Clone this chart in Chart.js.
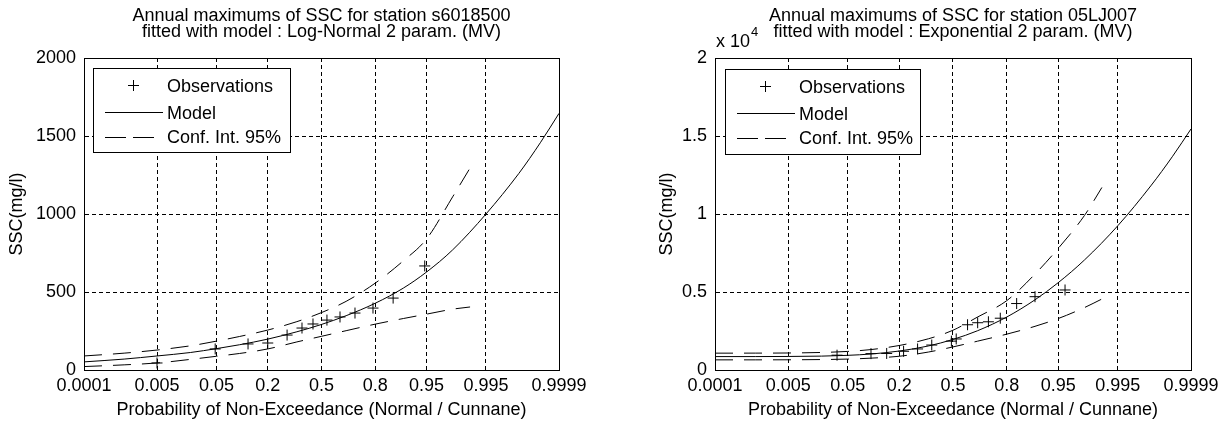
<!DOCTYPE html>
<html>
<head>
<meta charset="utf-8">
<script src="https://cdn.jsdelivr.net/npm/chart.js@4.4.1/dist/chart.umd.min.js"></script>
<style>
  body { margin: 0; background: #fff; width: 1228px; height: 427px; overflow: hidden; }
  .plot { position: absolute; top: 0; width: 614px; height: 427px; }
</style>
</head>
<body>
<div class="plot" style="left:0"><canvas id="left"></canvas></div>
<div class="plot" style="left:614px"><canvas id="right"></canvas></div>
<script>
// probability axis (normal / Cunnane)
const tickProbs = [0.0001, 0.005, 0.05, 0.2, 0.5, 0.8, 0.95, 0.995, 0.9999];
const tickLabels = ['0.0001', '0.005', '0.05', '0.2', '0.5', '0.8', '0.95', '0.995', '0.9999'];

// probabilities where the curves were read
const modelP = [0.0001, 0.001, 0.005, 0.02, 0.05, 0.1, 0.2, 0.35, 0.5, 0.65, 0.8, 0.9, 0.95, 0.98, 0.995, 0.999, 0.9997, 0.9999];
const ciP = [0.0001, 0.001, 0.005, 0.02, 0.05, 0.1, 0.2, 0.35, 0.5, 0.65, 0.8, 0.9, 0.95, 0.98, 0.99];

// station s6018500, Log-Normal 2 param.
const leftObsP = [0.005, 0.048, 0.125, 0.2, 0.295, 0.38, 0.447, 0.534, 0.614, 0.70, 0.79, 0.869, 0.947];
const leftObsV = [45, 135, 167, 173, 224, 269, 295, 320, 340, 365, 397, 461, 667];
const leftModel = [52, 70, 90, 112, 137, 162, 198, 245, 292, 348, 428, 525, 628, 770, 1000, 1260, 1460, 1645];
const leftUpper = [90, 108, 128, 155, 185, 215, 256, 310, 368, 440, 557, 700, 840, 1110, 1295];
const leftLower = [22, 33, 45, 68, 88, 106, 135, 180, 216, 252, 294, 330, 358, 390, 404];
const leftYTicks = [0, 500, 1000, 1500, 2000];

// station 05LJ007, Exponential 2 param.
const rightObsP = [0.035, 0.10, 0.15, 0.22, 0.29, 0.37, 0.49, 0.52, 0.59, 0.65, 0.71, 0.77, 0.84, 0.90, 0.96];
const rightObsV = [950, 1050, 1060, 1200, 1350, 1600, 1850, 1990, 2900, 3030, 3090, 3320, 4260, 4700, 5130];
const rightModel = [860, 861, 868, 890, 940, 1025, 1215, 1540, 1960, 2520, 3400, 4500, 5600, 7050, 9250, 11800, 13700, 15450];
const rightUpper = [1080, 1082, 1090, 1125, 1190, 1310, 1570, 2000, 2550, 3400, 4450, 6150, 7800, 9900, 11700];
const rightLower = [650, 651, 655, 670, 700, 760, 880, 1150, 1480, 1850, 2300, 2800, 3300, 4000, 4550];
const rightYTicks = [0, 5000, 10000, 15000, 20000];

const FONT = '18px "Liberation Sans", Arial, sans-serif';

// inverse normal cdf (Acklam)
function probit(p) {
    const a = [-3.969683028665376e+01, 2.209460984245205e+02, -2.759285104469687e+02, 1.383577518672690e+02, -3.066479806614716e+01, 2.506628277459239e+00];
    const b = [-5.447609879822406e+01, 1.615858368580409e+02, -1.556989798598866e+02, 6.680131188771972e+01, -1.328068155288572e+01];
    const c = [-7.784894002430293e-03, -3.223964580411365e-01, -2.400758277161838e+00, -2.549732539343734e+00, 4.374664141464968e+00, 2.938163982698783e+00];
    const d = [7.784695709041462e-03, 3.224671290700398e-01, 2.445134137142996e+00, 3.754408661907416e+00];
    const pl = 0.02425;
    let q, r;
    if (p < pl) {
        q = Math.sqrt(-2 * Math.log(p));
        return (((((c[0]*q+c[1])*q+c[2])*q+c[3])*q+c[4])*q+c[5]) / ((((d[0]*q+d[1])*q+d[2])*q+d[3])*q+1);
    }
    if (p > 1 - pl) {
        q = Math.sqrt(-2 * Math.log(1 - p));
        return -(((((c[0]*q+c[1])*q+c[2])*q+c[3])*q+c[4])*q+c[5]) / ((((d[0]*q+d[1])*q+d[2])*q+d[3])*q+1);
    }
    q = p - 0.5; r = q * q;
    return (((((a[0]*r+a[1])*r+a[2])*r+a[3])*r+a[4])*r+a[5])*q / (((((b[0]*r+b[1])*r+b[2])*r+b[3])*r+b[4])*r+1);
}

const pts = (ps, vs) => ps.map((p, i) => ({ x: probit(p), y: vs[i] }));

const deco = {
    id: 'deco',
    afterDraw(chart, args, o) {
        const { ctx, chartArea: a } = chart;
        const cx = (a.left + a.right) / 2;
        ctx.save();
        ctx.fillStyle = '#000';
        ctx.strokeStyle = '#000';
        ctx.lineWidth = 1;
        ctx.font = FONT;
        ctx.textAlign = 'center';
        ctx.textBaseline = 'alphabetic';
        ctx.fillText(o.title[0], cx, 21);
        ctx.fillText(o.title[1], cx, 37);
        ctx.fillText('Probability of Non-Exceedance (Normal / Cunnane)', cx, 415);

        ctx.save();
        ctx.translate(o.yTitleX, (a.top + a.bottom) / 2);
        ctx.rotate(-Math.PI / 2);
        ctx.textBaseline = 'middle';
        ctx.fillText('SSC(mg/l)', 0, 0);
        ctx.restore();

        if (o.exponent) {
            ctx.textAlign = 'left';
            ctx.fillText('x 10', a.left + 1, 47);
            ctx.font = '13px "Liberation Sans", Arial, sans-serif';
            ctx.fillText('4', a.left + 36, 36);
            ctx.font = FONT;
        }

        // axes box
        const L = Math.round(a.left) + 0.5, T = Math.round(a.top) + 0.5;
        ctx.strokeRect(L, T, Math.round(a.right - a.left), Math.round(a.bottom - a.top));

        // legend
        const g = o.legend;
        ctx.fillStyle = '#fff';
        ctx.fillRect(g.x, g.y, g.w, g.h);
        ctx.strokeRect(g.x + 0.5, g.y + 0.5, g.w, g.h);
        ctx.fillStyle = '#000';
        ctx.beginPath();
        ctx.moveTo(g.x + 35, g.y + 17.5); ctx.lineTo(g.x + 46, g.y + 17.5);
        ctx.moveTo(g.x + 40.5, g.y + 12); ctx.lineTo(g.x + 40.5, g.y + 23);
        ctx.moveTo(g.x + 12, g.y + 44.5); ctx.lineTo(g.x + 70, g.y + 44.5);
        ctx.stroke();
        ctx.setLineDash([21, 7]);
        ctx.beginPath();
        ctx.moveTo(g.x + 12, g.y + 69.5); ctx.lineTo(g.x + 68, g.y + 69.5);
        ctx.stroke();
        ctx.setLineDash([]);
        ctx.textAlign = 'left';
        ctx.fillText('Observations', g.x + 74, g.y + 24);
        ctx.fillText('Model', g.x + 74, g.y + 51);
        ctx.fillText('Conf. Int. 95%', g.x + 74, g.y + 75);
        ctx.restore();
    }
};

function makeChart(id, cfg) {
    const line = { showLine: true, pointRadius: 0, borderColor: '#000', borderWidth: 1, cubicInterpolationMode: 'monotone', fill: false };
    return new Chart(document.getElementById(id), {
        type: 'scatter',
        data: {
            datasets: [
                { label: 'Observations', data: pts(cfg.obsP, cfg.obsV), pointStyle: 'cross', pointRadius: 5.5, borderColor: '#000', borderWidth: 1, backgroundColor: '#000' },
                { label: 'Model', data: pts(modelP, cfg.model), ...line },
                { label: 'Conf. Int. 95%', data: pts(ciP, cfg.upper), ...line, borderDash: [18, 11] },
                { label: 'Conf. Int. 95% low', data: pts(ciP, cfg.lower), ...line, borderDash: [18, 11] }
            ]
        },
        options: {
            responsive: true,
            maintainAspectRatio: false,
            animation: false,
            devicePixelRatio: 1,
            layout: { padding: { top: 58, right: cfg.padRight, left: 0, bottom: 0 } },
            plugins: {
                legend: { display: false },
                tooltip: { enabled: false },
                deco: cfg.deco
            },
            scales: {
                x: {
                    type: 'linear',
                    min: probit(tickProbs[0]),
                    max: probit(tickProbs[tickProbs.length - 1]),
                    afterBuildTicks: s => { s.ticks = tickProbs.map(p => ({ value: probit(p) })); },
                    afterFit: s => { s.height = 57; },
                    ticks: { autoSkip: false, maxRotation: 0, padding: 5, color: '#000', font: { size: 18 }, callback: (v, i) => tickLabels[i] },
                    grid: { color: '#000', lineWidth: 1, drawTicks: false },
                    border: { display: true, color: '#000', dash: [4, 3] }
                },
                y: {
                    min: cfg.yTicks[0],
                    max: cfg.yTicks[cfg.yTicks.length - 1],
                    afterBuildTicks: s => { s.ticks = cfg.yTicks.map(v => ({ value: v })); },
                    afterFit: s => { s.width = cfg.yWidth; },
                    ticks: { padding: 8, color: '#000', font: { size: 18 }, callback: cfg.yLabel },
                    grid: { color: '#000', lineWidth: 1, drawTicks: false },
                    border: { display: true, color: '#000', dash: [4, 3] }
                }
            }
        },
        plugins: [deco]
    });
}

Chart.defaults.font.family = '"Liberation Sans", Arial, sans-serif';
Chart.defaults.color = '#000';

makeChart('left', {
    obsP: leftObsP, obsV: leftObsV, model: leftModel, upper: leftUpper, lower: leftLower,
    yTicks: leftYTicks, yWidth: 84, padRight: 55,
    yLabel: v => String(v),
    deco: {
        title: ['Annual maximums of SSC for station s6018500', 'fitted with model : Log-Normal 2 param. (MV)'],
        yTitleX: 17, exponent: false,
        legend: { x: 93, y: 68, w: 197, h: 84 }
    }
});

makeChart('right', {
    obsP: rightObsP, obsV: rightObsV, model: rightModel, upper: rightUpper, lower: rightLower,
    yTicks: rightYTicks, yWidth: 101, padRight: 37,
    yLabel: v => String(v / 10000),
    deco: {
        title: ['Annual maximums of SSC for station 05LJ007', 'fitted with model : Exponential 2 param. (MV)'],
        yTitleX: 53, exponent: true,
        legend: { x: 111, y: 69, w: 195, h: 85 }
    }
});
</script>
</body>
</html>
